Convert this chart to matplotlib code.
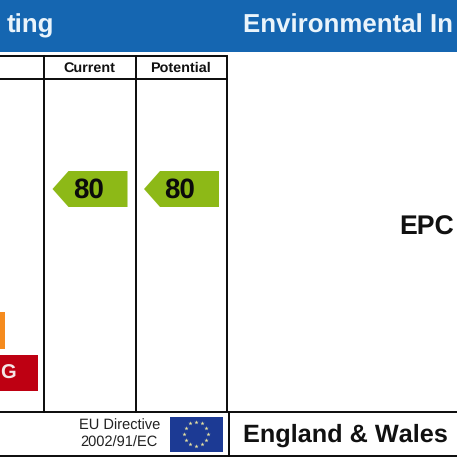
import numpy as np
import matplotlib
matplotlib.use("Agg")
import matplotlib.pyplot as plt
from matplotlib.patches import Polygon, Rectangle

plt.rcParams["text.hinting"] = "none"
plt.rcParams["text.kerning_factor"] = 6

current_rating = 80
potential_rating = 80
column_labels = ["Current", "Potential"]
band_labels = ["F", "G"]
band_widths = [5, 38]
band_colors = ["#F58B1E", "#BE0012"]

BLUE = "#1566B1"
GREEN = "#8DB917"
FONT = "Liberation Sans"

fig = plt.figure(figsize=(4.57, 4.57), dpi=100)
ax = fig.add_axes([0, 0, 1, 1])
ax.set_xlim(0, 457)
ax.set_ylim(457, 0)
ax.axis("off")

# header
ax.add_patch(Rectangle((0, 0), 457, 51.5, fc=BLUE, ec="none"))
ax.text(54, 26, "ting", color="#EAF4FB", fontsize=18.6, fontweight="bold",
        family=FONT, ha="right", va="center")
ax.text(243, 26, "Environmental In", color="#EAF4FB", fontsize=18.6, fontweight="bold",
        family=FONT, ha="left", va="center")

# table lines
lw = 1.4
k = "#0a0a0a"
ax.plot([0, 227, 227, 0], [56, 56, 412, 412], color=k, lw=lw, solid_joinstyle="miter")
ax.plot([0, 227], [79, 79], color=k, lw=lw)
for x in (44, 135.5):
    ax.plot([x, x], [56, 412], color=k, lw=lw)
ax.plot([0, 457], [455.5, 455.5], color=k, lw=lw)
ax.plot([228.5, 457], [412, 412], color=k, lw=lw)
ax.plot([228.5, 228.5], [412, 456], color=k, lw=lw)

# column headings
for x, label in zip((89.5, 180.5), column_labels):
    ax.text(x, 68, label, fontsize=10.4, fontweight="bold", family=FONT,
            ha="center", va="center", color="#111111")

# rating bands
ax.barh([330.5, 373], band_widths, height=[37, 36.5], left=0, color=band_colors)
ax.text(15.5, 373.5, band_labels[1], color="#F4E6E6", fontsize=14.5, fontweight="bold",
        family=FONT, ha="right", va="center")

# arrows
for tip, rating in ((52.5, current_rating), (144, potential_rating)):
    ax.add_patch(Polygon([(tip, 189), (tip + 16, 171), (tip + 75, 171),
                          (tip + 75, 207), (tip + 16, 207)], closed=True, fc=GREEN, ec="none"))
    ax.text(tip + 36, 190, str(rating), fontsize=20, fontweight="bold", family=FONT,
            ha="center", va="center", color="#0b0b0b")

ax.text(426.5, 227.5, "EPC", fontsize=19.2, fontweight="bold", family=FONT,
        ha="center", va="center", color="#111111")

# footer
ax.text(160, 425.5, "EU Directive", fontsize=10.5, family=FONT, ha="right", va="center", color="#222222")
ax.text(158, 442.5, "2002/91/EC", fontsize=10.5, family=FONT, ha="right", va="center", color="#222222")
ax.add_patch(Rectangle((170, 417), 52.5, 34.5, fc="#1C3A94", ec="none"))
ang = np.deg2rad(np.arange(0, 360, 30))
ax.plot(196 + 12 * np.cos(ang), 433.5 + 12 * np.sin(ang), ls="none", marker="*", ms=3.2,
        mfc="#E8E2A0", mec="none")
ax.text(243, 435.5, "England & Wales", fontsize=18.2, fontweight="bold", family=FONT,
        ha="left", va="center", color="#111111")

fig.savefig("out.png", dpi=100)
